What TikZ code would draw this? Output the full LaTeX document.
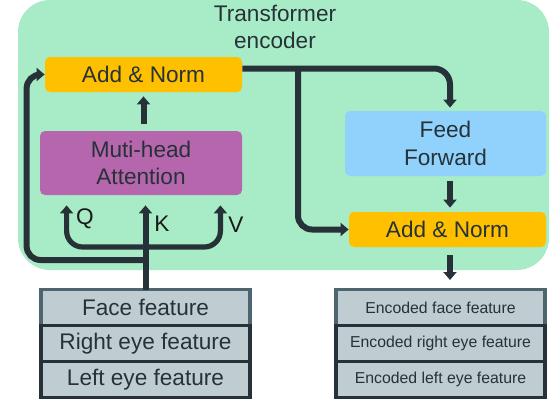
\documentclass[tikz,border=0pt]{standalone}
\usepackage{fontspec}
\setmainfont{Liberation Sans}
\usepackage{xcolor}
\usepackage{tikz}
\usetikzlibrary{positioning, arrows.meta}
\definecolor{mintbg}{HTML}{A8EBC7}
\definecolor{normorange}{HTML}{FFC000}
\definecolor{attnpurple}{HTML}{B666AD}
\definecolor{ffblue}{HTML}{91D2FC}
\definecolor{featgray}{HTML}{BFCCD2}
\definecolor{darkslate}{HTML}{263238}
\definecolor{midslate}{HTML}{4E646E}

\tikzset{
    block/.style={rounded corners=2.5pt, inner sep=0pt, align=center, text=darkslate,
                  font=\fontsize{11.3}{13.6}\selectfont},
    featrow/.style={draw=darkslate, line width=1.8pt, fill=featgray, minimum width=104.75pt,
                    minimum height=18pt, inner sep=0pt, outer sep=0pt, text=darkslate,
                    font=\fontsize{11.3}{13.6}\selectfont},
    encrow/.style={featrow, font=\fontsize{7.9}{9.5}\selectfont},
    conn/.style={draw=darkslate, line width=3pt, -{Triangle[length=4pt,width=6.5pt]}},
    qkvlabel/.style={text=black!90, inner sep=0pt, font=\fontsize{11.3}{13.6}\selectfont}
}

\begin{document}
\begin{tikzpicture}[x=0.5pt, y=-0.5pt]
    \useasboundingbox (0,0) rectangle (552,412);
    \fill[mintbg, rounded corners=16pt] (18,0) rectangle (549,270);
    \node[block] (title) at (275,27) {Transformer\\encoder};

    % encoder blocks
    \node[block, fill=normorange, minimum width=98.5pt, minimum height=17.5pt] (norm1) at (143.5,74.5) {Add \& Norm};
    \node[block, fill=attnpurple, minimum width=101pt, minimum height=32pt] (mha) at (141,163) {Muti-head\\Attention};
    \node[block, fill=ffblue, minimum width=100.5pt, minimum height=32.5pt] (ff) at (445.5,143.5) {Feed\\Forward};
    \node[block, fill=normorange, minimum width=98.5pt, minimum height=17.5pt] (norm2) at (447.5,229.5) {Add \& Norm};

    % input features
    \node[featrow, draw=midslate] (face) at (145.5,307.5) {Face feature};
    \node[featrow, below=0pt of face] (reye) {Right eye feature};
    \node[featrow, below=0pt of reye] (leye) {Left eye feature};

    % encoded features
    \node[encrow, draw=midslate] (encface) at (440.5,307.5) {Encoded face feature};
    \node[encrow, below=0pt of encface] (encreye) {Encoded right eye feature};
    \node[encrow, below=0pt of encreye] (encleye) {Encoded left eye feature};

    % Q K V inputs
    \coordinate (qkvsplit) at (145.5,247);
    \coordinate (ressplit) at (145.5,260);
    \draw[conn, shorten >=5pt] (face.north) -- (face.north |- mha.south);
    \draw[conn, line width=2.6pt, rounded corners=8pt, shorten >=5pt] (qkvsplit) -| ([xshift=13.5pt]mha.south west);
    \draw[conn, line width=2.6pt, rounded corners=8pt, shorten >=5pt] (qkvsplit) -| ([xshift=-11pt]mha.south east);
    \node[qkvlabel] (qlabel) at (85,219) {Q};
    \node[qkvlabel] (klabel) at (162,224) {K};
    \node[qkvlabel] (vlabel) at (236,225) {V};

    % residual paths
    \draw[conn, rounded corners=7pt] (ressplit) -| ([xshift=-9pt]norm1.west) -- (norm1.west);
    \draw[conn, shorten <=3.5pt, shorten >=2pt] (norm1.south |- mha.north) -- (norm1.south);
    \draw[conn, rounded corners=8pt, shorten >=1.5pt] ([yshift=3pt]norm1.east) -| ([xshift=2.25pt]ff.north);
    \coordinate (ffsplit) at (298,68.5);
    \draw[conn, rounded corners=7pt] (ffsplit) |- (norm2.west);
    \draw[conn, shorten <=2.5pt, shorten >=2pt] ([xshift=2.25pt]ff.south) -- ([xshift=1.25pt]norm2.north);
    \draw[conn, shorten <=4pt, shorten >=4.75pt] ([xshift=1.25pt]norm2.south) -- ([xshift=4.75pt]encface.north);
\end{tikzpicture}
\end{document}
